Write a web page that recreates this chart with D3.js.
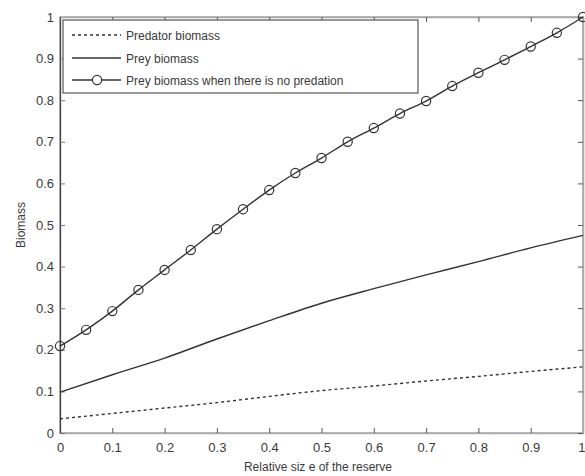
<!DOCTYPE html>
<html>
<head>
<meta charset="utf-8">
<script src="https://cdn.jsdelivr.net/npm/d3@7"></script>
<style>
  html, body { margin: 0; padding: 0; background: #fff; }
  svg text { font-family: "Liberation Sans", Arial, sans-serif; fill: #3a3a3a; }
</style>
</head>
<body>
<svg id="chart" width="585" height="476"></svg>
<script>
// Relative reserve size at which each curve is sampled
const reserveSize = [0, 0.1, 0.2, 0.3, 0.4, 0.5, 0.6, 0.7, 0.8, 0.9, 1.0];
const predatorBiomass = [0.034, 0.047, 0.060, 0.073, 0.088, 0.102, 0.113, 0.125, 0.136, 0.148, 0.159];
const preyBiomass = [0.098, 0.140, 0.180, 0.226, 0.270, 0.312, 0.347, 0.380, 0.412, 0.445, 0.475];

// Prey without predation, sampled every 0.05
const reserveSizeFine = [0, 0.05, 0.1, 0.15, 0.2, 0.25, 0.3, 0.35, 0.4, 0.45, 0.5,
                         0.55, 0.6, 0.65, 0.7, 0.75, 0.8, 0.85, 0.9, 0.95, 1.0];
const preyNoPredation = [0.209, 0.248, 0.293, 0.344, 0.392, 0.440, 0.490, 0.538, 0.584, 0.625, 0.661,
                         0.700, 0.733, 0.768, 0.798, 0.834, 0.866, 0.897, 0.929, 0.962, 1.0];

const xTicks = [0, 0.1, 0.2, 0.3, 0.4, 0.5, 0.6, 0.7, 0.8, 0.9, 1];
const yTicks = [0, 0.1, 0.2, 0.3, 0.4, 0.5, 0.6, 0.7, 0.8, 0.9, 1];
const legendLabels = ["Predator biomass", "Prey biomass", "Prey biomass when there is no predation"];

(function draw() {
  const svg = d3.select("#chart");
  const plotL = 60, plotR = 583, plotT = 17, plotB = 433;

  const x = d3.scaleLinear().domain([0, 1]).range([plotL, plotR]);
  const y = d3.scaleLinear().domain([0, 1]).range([plotB, plotT]);

  const ink = "#333";
  const tickFmt = d => d === 0 || d === 1 ? String(d) : d3.format(".1f")(d);

  // Box frame
  svg.append("rect")
    .attr("x", plotL).attr("y", plotT)
    .attr("width", plotR - plotL).attr("height", plotB - plotT)
    .attr("fill", "none").attr("stroke", "#aaa").attr("stroke-width", 1.6);

  // Axes with inward ticks
  const bottomAxis = svg.append("g").attr("transform", `translate(0,${plotB})`)
    .call(d3.axisBottom(x).tickValues(xTicks).tickSizeInner(-5).tickSizeOuter(0).tickPadding(10).tickFormat(tickFmt));
  const leftAxis = svg.append("g").attr("transform", `translate(${plotL},0)`)
    .call(d3.axisLeft(y).tickValues(yTicks).tickSizeInner(-5).tickSizeOuter(0).tickPadding(6).tickFormat(tickFmt));
  const topAxis = svg.append("g").attr("transform", `translate(0,${plotT})`)
    .call(d3.axisTop(x).tickValues(xTicks).tickSizeInner(-5).tickSizeOuter(0).tickFormat(""));
  const rightAxis = svg.append("g").attr("transform", `translate(${plotR},0)`)
    .call(d3.axisRight(y).tickValues(yTicks).tickSizeInner(-5).tickSizeOuter(0).tickFormat(""));

  [bottomAxis, topAxis, rightAxis].forEach(g => {
    g.select(".domain").attr("stroke", "#aaa").attr("stroke-width", 1.6);
    g.selectAll(".tick line").attr("stroke", "#555");
  });
  leftAxis.select(".domain").attr("stroke", "#444").attr("stroke-width", 1.3);
  leftAxis.selectAll(".tick line").attr("stroke", "#777");
  [bottomAxis, leftAxis].forEach(g => {
    g.selectAll(".tick text").attr("font-size", 13).attr("fill", "#3a3a3a")
      .style("font-family", '"Liberation Sans", Arial, sans-serif');
  });
  // keep the last x label inside the page at the right edge
  bottomAxis.selectAll(".tick text").filter(d => d === 1)
    .attr("text-anchor", "end").attr("dx", 2);

  // Axis titles
  svg.append("text").attr("x", 318).attr("y", 471).attr("text-anchor", "middle")
    .attr("font-size", 12).text("Relative siz e of the reserve");
  svg.append("text").attr("transform", "translate(25,225) rotate(-90)")
    .attr("text-anchor", "middle").attr("font-size", 12).text("Biomass");

  // Curves
  const line = d3.line().x(d => x(d[0])).y(d => y(d[1])).curve(d3.curveMonotoneX);
  svg.append("path").datum(reserveSize.map((v, i) => [v, predatorBiomass[i]]))
    .attr("d", line).attr("fill", "none").attr("stroke", ink)
    .attr("stroke-width", 1.4).attr("stroke-dasharray", "3,3");
  svg.append("path").datum(reserveSize.map((v, i) => [v, preyBiomass[i]]))
    .attr("d", line).attr("fill", "none").attr("stroke", ink).attr("stroke-width", 1.4);
  const noPred = reserveSizeFine.map((v, i) => [v, preyNoPredation[i]]);
  svg.append("path").datum(noPred)
    .attr("d", line).attr("fill", "none").attr("stroke", ink).attr("stroke-width", 1.4);
  svg.append("g").selectAll("circle").data(noPred).join("circle")
    .attr("cx", d => x(d[0])).attr("cy", d => y(d[1])).attr("r", 4.6)
    .attr("fill", "none").attr("stroke", ink).attr("stroke-width", 1.2);

  // Legend
  const lg = svg.append("g");
  lg.append("rect").attr("x", 63).attr("y", 20).attr("width", 355).attr("height", 73)
    .attr("fill", "#fff").attr("stroke", "#555").attr("stroke-width", 1.2);
  const rows = [35, 58, 80];
  const styles = [
    { dash: "3,3", marker: false },
    { dash: null, marker: false },
    { dash: null, marker: true }
  ];
  legendLabels.forEach((label, i) => {
    const yy = rows[i];
    lg.append("line").attr("x1", 72).attr("x2", 121).attr("y1", yy).attr("y2", yy)
      .attr("stroke", ink).attr("stroke-width", 1.4)
      .attr("stroke-dasharray", styles[i].dash);
    if (styles[i].marker) {
      lg.append("circle").attr("cx", 97).attr("cy", yy).attr("r", 4.6)
        .attr("fill", "#fff").attr("stroke", ink).attr("stroke-width", 1.2);
    }
    lg.append("text").attr("x", 126).attr("y", yy + 4.5).attr("font-size", 12).text(label);
  });
})();
</script>
</body>
</html>
